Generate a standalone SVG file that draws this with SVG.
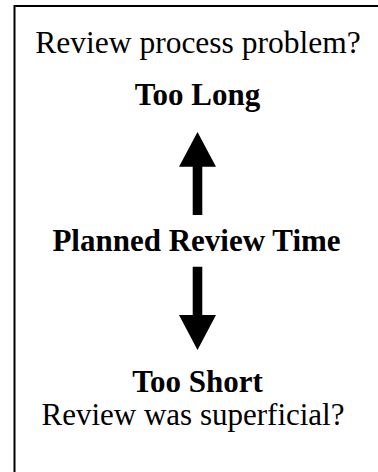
<svg xmlns="http://www.w3.org/2000/svg" width="378" height="472" viewBox="0 0 378 472">
  <style>
    .t { font-family: "Liberation Serif", "Times New Roman", serif; font-size: 31px; fill: #000; text-anchor: middle; }
    .b { font-weight: bold; }
    .arrow { fill: #000; stroke: none; }
  </style>
  <rect x="0" y="0" width="378" height="472" fill="#fff"/>
  <rect id="frame" x="14.5" y="6" width="400" height="500" fill="none" stroke="#000" stroke-width="2"/>
  <g id="question-top">
    <text class="t" x="198" y="53" style="font-size:31.5px">Review process problem?</text>
  </g>
  <g id="too-long">
    <text class="t b" x="197.5" y="105">Too Long</text>
  </g>
  <g id="planned-review-time">
    <text class="t b" x="196.5" y="251">Planned Review Time</text>
  </g>
  <g id="too-short">
    <text class="t b" x="197.5" y="392">Too Short</text>
  </g>
  <g id="question-bottom">
    <text class="t" x="193" y="425">Review was superficial?</text>
  </g>
  <g id="connectors">
    <path class="arrow" d="M192.7,215 L192.7,166.7 L179,166.7 L197.5,132 L216,166.7 L202.3,166.7 L202.3,215 Z"/>
    <path class="arrow" d="M192.7,266.7 L192.7,315 L179,315 L197.5,350 L216,315 L202.3,315 L202.3,266.7 Z"/>
  </g>
</svg>
